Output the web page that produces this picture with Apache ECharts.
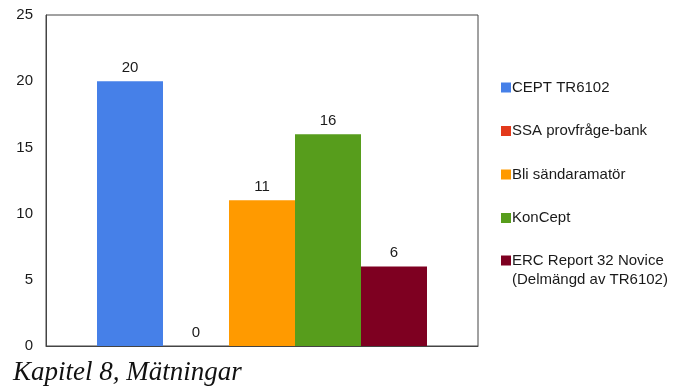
<!DOCTYPE html>
<html>
<head>
<meta charset="utf-8">
<script src="https://cdn.jsdelivr.net/npm/echarts@6/dist/echarts.min.js"></script>
<style>
  html, body { margin: 0; padding: 0; background: #ffffff; }
  #chart { width: 687px; height: 389px; }
</style>
</head>
<body>
<div id="chart"></div>
<script>
// Question-bank sources and how many questions each covers
const categories = [''];
const seriesNames = [
  'CEPT TR6102',
  'SSA provfråge-bank',
  'Bli sändaramatör',
  'KonCept',
  'ERC Report 32 Novice\n(Delmängd av TR6102)'
];
const seriesValues = [20, 0, 11, 16, 6];
const seriesColors = ['#4680e8', '#e3391b', '#ff9a00', '#579d1c', '#7e0021'];
const yTicks = [0, 5, 10, 15, 20, 25];

const FONT = 'Liberation Sans, Arial, sans-serif';

const chart = echarts.init(document.getElementById('chart'), null, { renderer: 'canvas' });

const series = seriesNames.map((name, i) => ({
  name: name,
  type: 'bar',
  data: [seriesValues[i]],
  barWidth: 66,
  barGap: '0%',
  itemStyle: { color: seriesColors[i] },
  label: {
    show: true,
    position: 'top',
    distance: 6,
    color: '#1a1a1a',
    fontFamily: FONT,
    fontSize: 15
  },
  emphasis: { disabled: true }
}));

const legendText = {
  color: '#1a1a1a',
  fontFamily: FONT,
  fontSize: 15,
  lineHeight: 19,
  padding: [0, 0, 0, -4]
};

chart.setOption({
  animation: false,
  backgroundColor: '#ffffff',
  grid: {
    left: 46, right: 209, top: 15, bottom: 43,
    show: true,
    borderColor: '#444444',
    borderWidth: 1,
    backgroundColor: 'transparent'
  },
  xAxis: {
    type: 'category',
    data: categories,
    axisLine: { show: true, lineStyle: { color: '#444444' } },
    axisTick: { show: false },
    axisLabel: { show: false }
  },
  yAxis: {
    type: 'value',
    min: yTicks[0],
    max: yTicks[yTicks.length - 1],
    interval: yTicks[1] - yTicks[0],
    axisLine: { show: true, lineStyle: { color: '#444444' } },
    axisTick: { show: false },
    splitLine: { show: false },
    axisLabel: {
      margin: 13,
      color: '#1a1a1a',
      fontFamily: FONT,
      fontSize: 15
    }
  },
  legend: [
    {
      orient: 'vertical',
      left: 501,
      top: 78,
      padding: 0,
      itemGap: 24.5,
      itemWidth: 10,
      itemHeight: 10,
      icon: 'rect',
      selectedMode: false,
      data: seriesNames.slice(0, 4),
      textStyle: legendText
    },
    {
      // two-line entry: a blank leading line keeps the marker beside the first line
      orient: 'vertical',
      left: 501,
      top: 232,
      padding: 0,
      itemWidth: 10,
      itemHeight: 10,
      icon: 'rect',
      selectedMode: false,
      data: seriesNames.slice(4),
      formatter: (name) => ' \n' + name,
      textStyle: legendText
    }
  ],
  title: {
    text: 'Kapitel 8, Mätningar',
    left: 13,
    top: 359,
    padding: 0,
    textStyle: {
      fontFamily: 'Liberation Serif, Times New Roman, serif',
      fontStyle: 'italic',
      fontWeight: 'normal',
      fontSize: 27,
      color: '#111111'
    }
  },
  series: series
});
</script>
</body>
</html>
